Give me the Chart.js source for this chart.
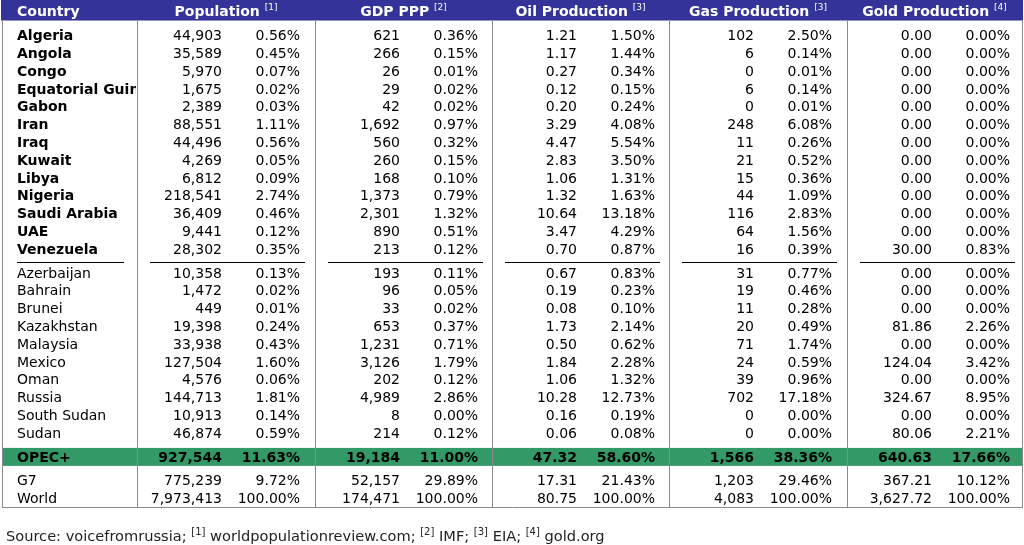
<!DOCTYPE html>
<html>
<head>
<meta charset="utf-8">
<script src="https://cdn.jsdelivr.net/npm/chart.js@4.4.1/dist/chart.umd.min.js"></script>
<style>
  html, body { margin: 0; padding: 0; background: #fff; }
  #wrap { width: 1024px; height: 545px; }
</style>
</head>
<body>
<div id="wrap"><canvas id="table"></canvas></div>
<script>
// rows
const opecCountries = ["Algeria", "Angola", "Congo", "Equatorial Guinea", "Gabon", "Iran", "Iraq",
  "Kuwait", "Libya", "Nigeria", "Saudi Arabia", "UAE", "Venezuela"];
const otherCountries = ["Azerbaijan", "Bahrain", "Brunei", "Kazakhstan", "Malaysia", "Mexico",
  "Oman", "Russia", "South Sudan", "Sudan"];
const summaryRows = ["OPEC+", "G7", "World"];

// columns (values in row order: opec, other, summary)
const population = [44903, 35589, 5970, 1675, 2389, 88551, 44496, 4269, 6812, 218541, 36409, 9441, 28302,
  10358, 1472, 449, 19398, 33938, 127504, 4576, 144713, 10913, 46874,
  927544, 775239, 7973413];
const populationShare = [0.56, 0.45, 0.07, 0.02, 0.03, 1.11, 0.56, 0.05, 0.09, 2.74, 0.46, 0.12, 0.35,
  0.13, 0.02, 0.01, 0.24, 0.43, 1.60, 0.06, 1.81, 0.14, 0.59,
  11.63, 9.72, 100.00];
const gdpPPP = [621, 266, 26, 29, 42, 1692, 560, 260, 168, 1373, 2301, 890, 213,
  193, 96, 33, 653, 1231, 3126, 202, 4989, 8, 214,
  19184, 52157, 174471];
const gdpShare = [0.36, 0.15, 0.01, 0.02, 0.02, 0.97, 0.32, 0.15, 0.10, 0.79, 1.32, 0.51, 0.12,
  0.11, 0.05, 0.02, 0.37, 0.71, 1.79, 0.12, 2.86, 0.00, 0.12,
  11.00, 29.89, 100.00];
const oilProduction = [1.21, 1.17, 0.27, 0.12, 0.20, 3.29, 4.47, 2.83, 1.06, 1.32, 10.64, 3.47, 0.70,
  0.67, 0.19, 0.08, 1.73, 0.50, 1.84, 1.06, 10.28, 0.16, 0.06,
  47.32, 17.31, 80.75];
const oilShare = [1.50, 1.44, 0.34, 0.15, 0.24, 4.08, 5.54, 3.50, 1.31, 1.63, 13.18, 4.29, 0.87,
  0.83, 0.23, 0.10, 2.14, 0.62, 2.28, 1.32, 12.73, 0.19, 0.08,
  58.60, 21.43, 100.00];
const gasProduction = [102, 6, 0, 6, 0, 248, 11, 21, 15, 44, 116, 64, 16,
  31, 19, 11, 20, 71, 24, 39, 702, 0, 0,
  1566, 1203, 4083];
const gasShare = [2.50, 0.14, 0.01, 0.14, 0.01, 6.08, 0.26, 0.52, 0.36, 1.09, 2.83, 1.56, 0.39,
  0.77, 0.46, 0.28, 0.49, 1.74, 0.59, 0.96, 17.18, 0.00, 0.00,
  38.36, 29.46, 100.00];
const goldProduction = [0, 0, 0, 0, 0, 0, 0, 0, 0, 0, 0, 0, 30.00,
  0, 0, 0, 81.86, 0, 124.04, 0, 324.67, 0, 80.06,
  640.63, 367.21, 3627.72];
const goldShare = [0, 0, 0, 0, 0, 0, 0, 0, 0, 0, 0, 0, 0.83,
  0, 0, 0, 2.26, 0, 3.42, 0, 8.95, 0, 2.21,
  17.66, 10.12, 100.00];

const headerTitles = ["Country", "Population", "GDP PPP", "Oil Production", "Gas Production", "Gold Production"];
const headerNotes = ["", "[1]", "[2]", "[3]", "[3]", "[4]"];
const sourceParts = [["Source: voicefromrussia; ", false], ["[1]", true], [" worldpopulationreview.com; ", false],
  ["[2]", true], [" IMF; ", false], ["[3]", true], [" EIA; ", false], ["[4]", true], [" gold.org", false]];

// layout
const FONT = '"Verdana", "DejaVu Sans", sans-serif';
const borders = [137, 315, 492, 669, 847];
const columns = [
  { vals: population, pct: populationShare, dec: 0 },
  { vals: gdpPPP, pct: gdpShare, dec: 0 },
  { vals: oilProduction, pct: oilShare, dec: 2 },
  { vals: gasProduction, pct: gasShare, dec: 0 },
  { vals: goldProduction, pct: goldShare, dec: 2 },
];

const rows = [];
opecCountries.forEach((c, i) => rows.push({ name: c, slot: i, bold: true }));
otherCountries.forEach((c, i) => rows.push({ name: c, slot: 13.33 + i, bold: false }));
rows.push({ name: summaryRows[0], slot: 23.67, bold: true, all: true });
rows.push({ name: summaryRows[1], slot: 25.0, bold: false });
rows.push({ name: summaryRows[2], slot: 26.0, bold: false });

function fmt(v, d) {
  return v.toLocaleString("en-US", { minimumFractionDigits: d, maximumFractionDigits: d });
}

const tablePlugin = {
  id: "tablePlugin",
  afterDraw(chart) {
    const ctx = chart.ctx;
    const sx = chart.scales.x;
    const sy = chart.scales.y;
    const px = (v) => sx.getPixelForValue(v);
    const py = (v) => sy.getPixelForValue(v);

    ctx.save();
    // header band
    ctx.fillStyle = "#333399";
    ctx.fillRect(px(1), py(-1.983), px(1023) - px(1), py(-0.83) - py(-1.983));
    // opec+ band
    ctx.fillStyle = "#339966";
    ctx.fillRect(px(2), py(23.18), px(1022) - px(2), py(24.19) - py(23.18));

    // borders
    ctx.strokeStyle = "#8a8a8a";
    ctx.lineWidth = 1;
    ctx.beginPath();
    borders.concat([2, 1022]).forEach((b) => {
      const x = Math.round(px(b)) + 0.5;
      ctx.moveTo(x, py(-0.83));
      ctx.lineTo(x, py(26.5));
    });
    ctx.moveTo(px(2), Math.round(py(26.5)) + 0.5);
    ctx.lineTo(px(1022) + 1, Math.round(py(26.5)) + 0.5);
    ctx.stroke();

    // separators under the OPEC members
    ctx.strokeStyle = "#000";
    ctx.beginPath();
    const sepY = Math.round(py(12.74)) + 0.5;
    ctx.moveTo(px(17), sepY); ctx.lineTo(px(124), sepY);
    borders.forEach((b) => {
      ctx.moveTo(px(b + 13), sepY); ctx.lineTo(px(b + 168), sepY);
    });
    ctx.stroke();

    // header text
    ctx.textBaseline = "alphabetic";
    ctx.fillStyle = "#fff";
    const hy = py(-1.365) + 5;
    ctx.font = "bold 14px " + FONT;
    ctx.textAlign = "left";
    ctx.fillText(headerTitles[0], px(17), hy);
    for (let i = 1; i < headerTitles.length; i++) {
      const left = borders[i - 1];
      const right = i < borders.length ? borders[i] : 1022;
      ctx.font = "bold 14px " + FONT;
      const tw = ctx.measureText(headerTitles[i] + " ").width;
      ctx.font = "9px " + FONT;
      const nw = ctx.measureText(headerNotes[i]).width;
      const start = (px(left) + px(right)) / 2 - (tw + nw) / 2;
      ctx.font = "bold 14px " + FONT;
      ctx.fillText(headerTitles[i], start, hy);
      ctx.font = "9px " + FONT;
      ctx.fillText(headerNotes[i], start + tw, hy - 6);
    }

    // body
    ctx.fillStyle = "#000";
    rows.forEach((r, ri) => {
      const y = py(r.slot) + 5;
      ctx.font = (r.bold ? "bold " : "") + "14px " + FONT;
      ctx.textAlign = "left";
      ctx.save();
      ctx.beginPath();
      ctx.rect(0, y - 20, px(borders[0]) - 1, 30);
      ctx.clip();
      ctx.fillText(r.name, px(17), y);
      ctx.restore();
      ctx.font = (r.all ? "bold " : "") + "14px " + FONT;
      ctx.textAlign = "right";
      columns.forEach((c, ci) => {
        const b = borders[ci];
        ctx.fillText(fmt(c.vals[ri], c.dec), px(b + 85), y);
        ctx.fillText(fmt(c.pct[ri], 2) + "%", px(b + 163), y);
      });
    });

    // source line
    ctx.fillStyle = "#222";
    ctx.textAlign = "left";
    let sxPos = px(6);
    const sy0 = py(28.11) + 5;
    sourceParts.forEach(([t, sup]) => {
      ctx.font = (sup ? "10px " : "14.6px ") + FONT;
      ctx.fillText(t, sxPos, sup ? sy0 - 6 : sy0);
      sxPos += ctx.measureText(t).width;
    });
    ctx.restore();
  },
};

new Chart(document.getElementById("table"), {
  type: "scatter",
  data: { datasets: [] },
  options: {
    responsive: true,
    maintainAspectRatio: false,
    animation: false,
    layout: { padding: 0 },
    plugins: { legend: { display: false }, tooltip: { enabled: false } },
    scales: {
      x: { type: "linear", min: 0, max: 1024, display: false },
      y: { type: "linear", min: -1.983, max: 28.635, reverse: true, display: false },
    },
  },
  plugins: [tablePlugin],
});
</script>
</body>
</html>
